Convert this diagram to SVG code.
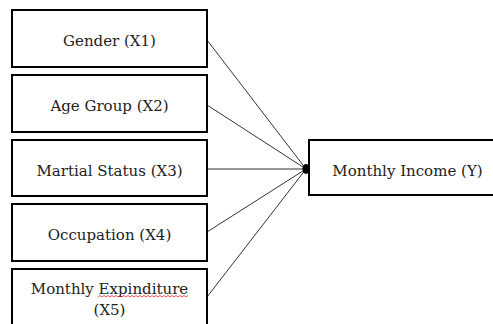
<svg xmlns="http://www.w3.org/2000/svg" width="493" height="324" viewBox="0 0 493 324">
<style>
.box{fill:#fff;stroke:#000;stroke-width:2}
.t{font-family:"DejaVu Serif","Liberation Serif",serif;font-size:15px;fill:#222;text-anchor:middle}
.c{stroke:#333;stroke-width:1;fill:none}
</style>
<rect width="493" height="324" fill="#fff"/>
<g id="connectors">
<line class="c" x1="207" y1="40" x2="306" y2="169"/>
<line class="c" x1="207" y1="105" x2="306" y2="169"/>
<line class="c" x1="207" y1="169" x2="306" y2="169"/>
<line class="c" x1="207" y1="232" x2="306" y2="169"/>
<line class="c" x1="207" y1="297" x2="306" y2="169"/>
<ellipse cx="306" cy="169" rx="3.5" ry="5" fill="#000"/>
</g>
<g id="x1"><rect class="box" x="12" y="10" width="195" height="57"/><text class="t" x="109.5" y="46">Gender (X1)</text></g>
<g id="x2"><rect class="box" x="12" y="75" width="195" height="57"/><text class="t" x="109.5" y="111">Age Group (X2)</text></g>
<g id="x3"><rect class="box" x="12" y="140" width="195" height="56"/><text class="t" x="109.5" y="175.5">Martial Status (X3)</text></g>
<g id="x4"><rect class="box" x="12" y="204" width="195" height="57"/><text class="t" x="109.5" y="240">Occupation (X4)</text></g>
<g id="x5"><rect class="box" x="12" y="269" width="195" height="65"/><text class="t" x="109.5" y="294">Monthly Expinditure</text><text class="t" x="109.5" y="315">(X5)</text>
<path d="M98 297 l2 -1.5 l2 1.5 l2 -1.5 l2 1.5 l2 -1.5 l2 1.5 l2 -1.5 l2 1.5 l2 -1.5 l2 1.5 l2 -1.5 l2 1.5 l2 -1.5 l2 1.5 l2 -1.5 l2 1.5 l2 -1.5 l2 1.5 l2 -1.5 l2 1.5 l2 -1.5 l2 1.5 l2 -1.5 l2 1.5 l2 -1.5 l2 1.5 l2 -1.5 l2 1.5 l2 -1.5 l2 1.5 l2 -1.5 l2 1.5 l2 -1.5 l2 1.5 l2 -1.5 l2 1.5 l2 -1.5 l2 1.5 l2 -1.5 l2 1.5 l2 -1.5 l2 1.5 l2 -1.5 l2 1.5 l2 -1.5" fill="none" stroke="#e03030" stroke-width="0.8"/></g>
<g id="y"><rect class="box" x="309" y="140" width="190" height="55"/><text class="t" x="407.5" y="176">Monthly Income (Y)</text></g>
</svg>
